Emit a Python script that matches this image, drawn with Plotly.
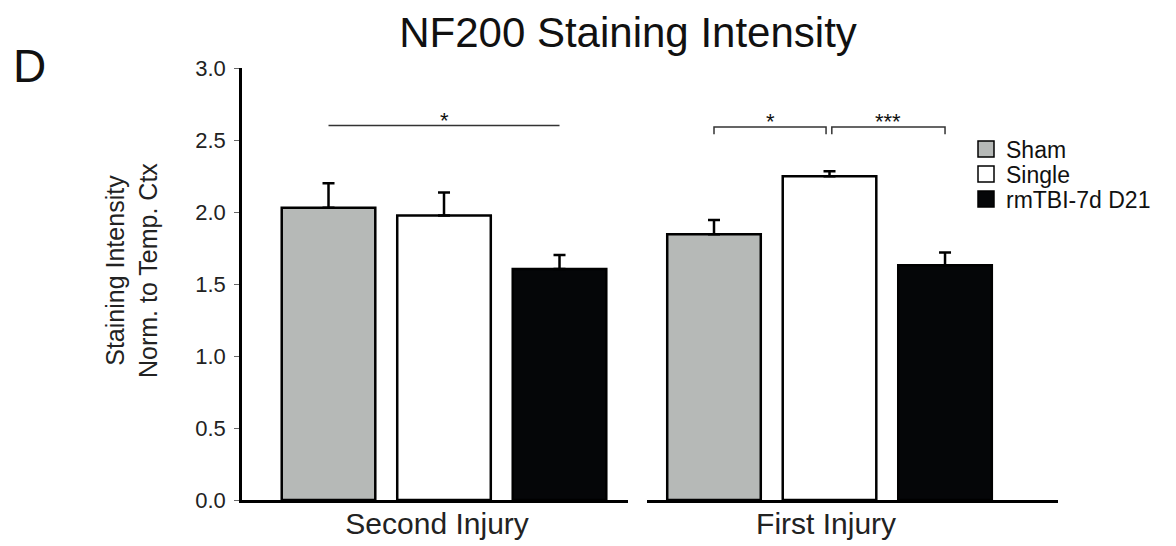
import plotly.graph_objects as go

# ---- data ----
groups = ["Sham", "Single", "rmTBI-7d D21"]
panels = ["Second Injury", "First Injury"]
means_second = [2.03, 1.975, 1.605]
errs_second = [0.17, 0.16, 0.097]
means_first = [1.845, 2.248, 1.63]
errs_first = [0.10, 0.035, 0.088]
colors = ["#b6b9b7", "#ffffff", "#050608"]

# significance: (panel index, bar i, bar j, label, y level, end ticks)
sig = [
    (0, 0, 2, "*", 2.60, False),
    (1, 0, 0.97, "*", 2.59, True),
    (1, 1.02, 2, "***", 2.59, True),
]

FONT = "Liberation Sans, Arial, Helvetica, sans-serif"
fig = go.Figure()
pos = [0, 1, 2]
means = [means_second, means_first]
errs = [errs_second, errs_first]
legend_names = ["legend", "legend2", "legend3"]
for p in range(2):
    xa = "x" if p == 0 else "x2"
    for g in range(3):
        fig.add_trace(go.Bar(
            x=[pos[g]], y=[means[p][g]], width=0.81,
            name=groups[g], xaxis=xa, yaxis="y",
            marker=dict(color=colors[g], line=dict(color="black", width=2.5)),
            error_y=dict(type="data", array=[errs[p][g]], arrayminus=[0], symmetric=False,
                         color="black", thickness=2.5, width=6),
            showlegend=False,
        ))
# legend entries (square swatches)
for g in range(3):
    fig.add_trace(go.Scatter(
        x=[None], y=[None], mode="markers", name=groups[g], legend=legend_names[g],
        marker=dict(symbol="square", size=16, color=colors[g], line=dict(color="black", width=1.5)),
        showlegend=True,
    ))

W_PLOT = 816.0
fig.update_layout(
    width=1176, height=546,
    margin=dict(l=242, r=118, t=68, b=46, autoexpand=False),
    paper_bgcolor="white", plot_bgcolor="white",
    font=dict(family=FONT, color="#111"),
    barmode="overlay",
    xaxis=dict(domain=[0, 386 / W_PLOT], range=[-0.749, 2.593], showline=True,
               linecolor="black", linewidth=2.5, ticks="", tickvals=[0.94],
               ticktext=[panels[0]], tickfont=dict(size=30, color="#222"), showgrid=False,
               zeroline=False, ticklabelstandoff=-5, automargin=False),
    xaxis2=dict(domain=[405 / W_PLOT, 1], range=[-0.580, 2.978], showline=True,
                linecolor="black", linewidth=2.5, ticks="", tickvals=[0.97],
                ticktext=[panels[1]], tickfont=dict(size=30, color="#222"), showgrid=False,
                zeroline=False, anchor="y", ticklabelstandoff=-5, automargin=False),
    yaxis=dict(range=[0, 3], tickvals=[0, 0.5, 1.0, 1.5, 2.0, 2.5, 3.0],
               ticktext=["0.0", "0.5", "1.0", "1.5", "2.0", "2.5", "3.0"],
               showline=True, linecolor="black", linewidth=2.5, ticks="outside",
               ticklen=5, tickcolor="#666", tickwidth=1, tickfont=dict(size=22, color="#222"),
               showgrid=False, zeroline=False, ticklabelstandoff=4, automargin=False),
    title=dict(text="NF200 Staining Intensity", x=628 / 1176, xanchor="center",
               y=1 - 32 / 546, yanchor="middle", font=dict(size=42, color="#111"),
               automargin=False),
)

leg_y = [149, 174, 199]
for i, ln in enumerate(legend_names):
    fig.update_layout({ln: dict(x=(966 - 242) / W_PLOT, xanchor="left",
                                y=(500 - leg_y[i]) / 432, yanchor="middle",
                                font=dict(size=23, color="#111"), bgcolor="rgba(0,0,0,0)",
                                borderwidth=0, itemsizing="trace")})

# significance brackets
for (p, i, j, lab, yv, ticks) in sig:
    xr = "x" if p == 0 else "x2"
    if ticks:
        fig.add_shape(type="path", xref=xr, yref="y",
                      path=f"M {i},{yv-0.05} L {i},{yv} L {j},{yv} L {j},{yv-0.05}",
                      line=dict(color="#333", width=1.5))
    else:
        fig.add_shape(type="line", xref=xr, yref="y", x0=i, x1=j, y0=yv, y1=yv,
                      line=dict(color="#333", width=1.5))
    fig.add_annotation(x=(i + j) / 2, y=yv, xref=xr, yref="y", text=lab, showarrow=False,
                       yanchor="bottom", yshift=-9, font=dict(size=22, color="#111"))

# y-axis title and panel letter
fig.add_annotation(text="Staining Intensity<br>Norm. to Temp. Ctx", textangle=-90,
                   xref="paper", yref="paper", x=(131 - 242) / W_PLOT, y=(500 - 271) / 432,
                   xanchor="center", yanchor="middle", showarrow=False,
                   font=dict(size=25, color="#222"))
fig.add_annotation(text="D", xref="paper", yref="paper", x=(11 - 242) / W_PLOT,
                   y=(500 - 66) / 432, xanchor="left", yanchor="middle", showarrow=False,
                   font=dict(size=46, color="#111"))

fig.write_html("out.html")
